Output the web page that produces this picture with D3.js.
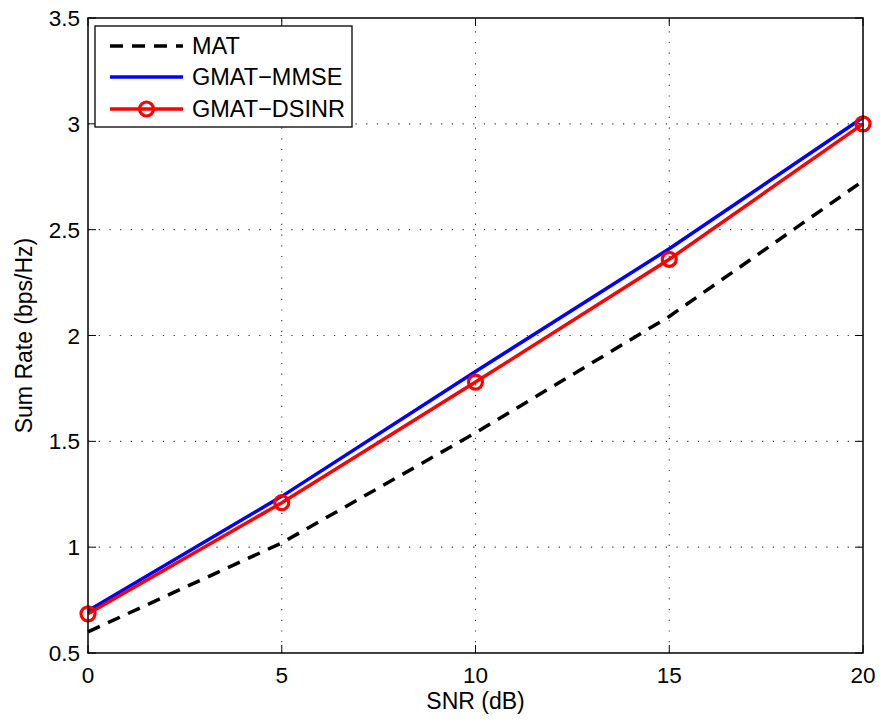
<!DOCTYPE html>
<html>
<head>
<meta charset="utf-8">
<script src="https://cdnjs.cloudflare.com/ajax/libs/d3/7.8.5/d3.min.js"></script>
<style>
  body { margin: 0; background: #fff; }
  svg { display: block; }
</style>
</head>
<body>
<svg width="882" height="721"></svg>
<script>
const WIDTH = 882;
const HEIGHT = 721;
const FONT = "Liberation Sans, Arial, Helvetica, sans-serif";

// data
const snr = [0, 5, 10, 15, 20];
const mat = [0.60, 1.02, 1.54, 2.09, 2.73];
const gmatMmse = [0.70, 1.24, 1.83, 2.41, 3.03];
const gmatDsinr = [0.685, 1.21, 1.78, 2.36, 3.00];
const xTicks = [0, 5, 10, 15, 20];
const yTicks = [0.5, 1, 1.5, 2, 2.5, 3, 3.5];
const labels = ["MAT", "GMAT\u2212MMSE", "GMAT\u2212DSINR"];

const M = {left: 88, right: 863, top: 18, bottom: 653};

var svg = d3.select("svg");

var x = d3.scaleLinear().domain([0, 20]).range([M.left, M.right]);
var y = d3.scaleLinear().domain([0.5, 3.5]).range([M.bottom, M.top]);

// grid
var grid = svg.append("g")
    .attr("stroke", "#333")
    .attr("stroke-width", 1.1)
    .attr("stroke-dasharray", "1.2,9.5");

grid.selectAll(".vg")
    .data(xTicks.slice(1, -1))
    .enter().append("line")
    .attr("x1", d => x(d)).attr("x2", d => x(d))
    .attr("y1", M.bottom).attr("y2", M.top);

grid.selectAll(".hg")
    .data(yTicks.slice(1, -1))
    .enter().append("line")
    .attr("x1", M.left).attr("x2", M.right)
    .attr("y1", d => y(d)).attr("y2", d => y(d));

// ticks (inward, all four sides)
var ticks = svg.append("g").attr("stroke", "black").attr("stroke-width", 1);
const TL = 8;
xTicks.forEach(d => {
    ticks.append("line").attr("x1", x(d)).attr("x2", x(d)).attr("y1", M.bottom).attr("y2", M.bottom - TL);
    ticks.append("line").attr("x1", x(d)).attr("x2", x(d)).attr("y1", M.top).attr("y2", M.top + TL);
});
yTicks.forEach(d => {
    ticks.append("line").attr("x1", M.left).attr("x2", M.left + TL).attr("y1", y(d)).attr("y2", y(d));
    ticks.append("line").attr("x1", M.right).attr("x2", M.right - TL).attr("y1", y(d)).attr("y2", y(d));
});

// tick labels
svg.append("g").selectAll("text")
    .data(xTicks)
    .enter().append("text")
    .attr("x", d => x(d))
    .attr("y", 683)
    .attr("text-anchor", "middle")
    .style("font-family", FONT)
    .style("font-size", "22.5px")
    .text(d => d);

svg.append("g").selectAll("text")
    .data(yTicks)
    .enter().append("text")
    .attr("x", M.left - 8)
    .attr("y", d => y(d) + 8)
    .attr("text-anchor", "end")
    .style("font-family", FONT)
    .style("font-size", "22.5px")
    .text(d => d);

// axis labels
svg.append("text")
    .attr("x", (M.left + M.right) / 2)
    .attr("y", 709)
    .attr("text-anchor", "middle")
    .style("font-family", FONT)
    .style("font-size", "23px")
    .text("SNR (dB)");

svg.append("text")
    .attr("transform", `translate(32, ${(M.top + M.bottom) / 2}) rotate(-90)`)
    .attr("text-anchor", "middle")
    .style("font-family", FONT)
    .style("font-size", "23px")
    .text("Sum Rate (bps/Hz)");

// lines
var lineGenerator = d3.line()
    .x((d, i) => x(snr[i]))
    .y(d => y(d));

svg.append("path")
    .attr("d", lineGenerator(mat))
    .attr("fill", "none")
    .attr("stroke", "black")
    .attr("stroke-width", 3.5)
    .attr("stroke-dasharray", "13,9");

svg.append("path")
    .attr("d", lineGenerator(gmatMmse))
    .attr("fill", "none")
    .attr("stroke", "blue")
    .attr("stroke-width", 3.5);

svg.append("path")
    .attr("d", lineGenerator(gmatDsinr))
    .attr("fill", "none")
    .attr("stroke", "red")
    .attr("stroke-width", 3.5);

svg.append("g").selectAll("circle")
    .data(gmatDsinr)
    .enter().append("circle")
    .attr("cx", (d, i) => x(snr[i]))
    .attr("cy", d => y(d))
    .attr("r", 7)
    .attr("fill", "none")
    .attr("stroke", "red")
    .attr("stroke-width", 3.2);

// axes box
svg.append("rect")
    .attr("x", M.left).attr("y", M.top)
    .attr("width", M.right - M.left).attr("height", M.bottom - M.top)
    .attr("fill", "none")
    .attr("stroke", "black")
    .attr("stroke-width", 1.5);

// legend
var legend = svg.append("g");
legend.append("rect")
    .attr("x", 95).attr("y", 26)
    .attr("width", 257).attr("height", 101)
    .attr("fill", "white")
    .attr("stroke", "black")
    .attr("stroke-width", 1.3);

const rowY = [46, 77, 109];
const styles = [
    {color: "black", dash: "13,9", marker: false},
    {color: "blue", dash: null, marker: false},
    {color: "red", dash: null, marker: true}
];

labels.forEach((lab, i) => {
    legend.append("line")
        .attr("x1", 110).attr("x2", 183)
        .attr("y1", rowY[i]).attr("y2", rowY[i])
        .attr("stroke", styles[i].color)
        .attr("stroke-width", 3.5)
        .attr("stroke-dasharray", styles[i].dash);
    if (styles[i].marker) {
        legend.append("circle")
            .attr("cx", 146.5).attr("cy", rowY[i])
            .attr("r", 7)
            .attr("fill", "none")
            .attr("stroke", styles[i].color)
            .attr("stroke-width", 3.2);
    }
    legend.append("text")
        .attr("x", 192)
        .attr("y", rowY[i] + 8)
        .style("font-family", FONT)
        .style("font-size", "23.5px")
        .text(lab);
});
</script>
</body>
</html>
